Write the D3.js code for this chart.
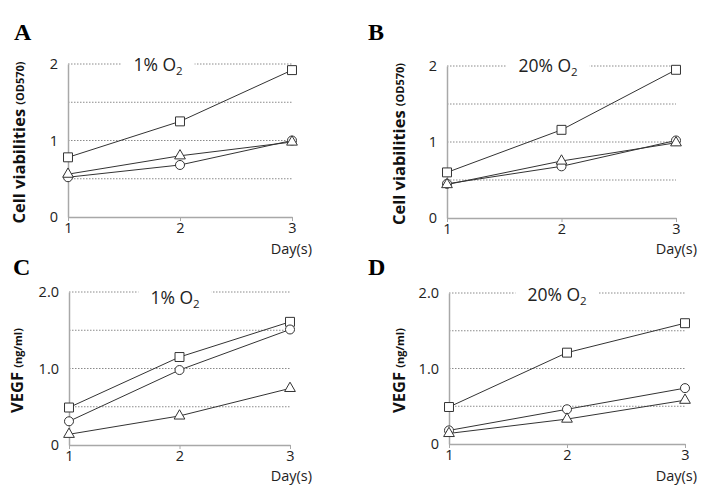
<!DOCTYPE html>
<html>
<head>
<meta charset="utf-8">
<script src="https://cdn.jsdelivr.net/npm/d3@7"></script>
<style>
  body { margin: 0; background: #fff; }
  text { font-family: "Open Sans", "Noto Sans", sans-serif; }
</style>
</head>
<body>
<div id="chart"></div>
<script>
// Data
const days = [1, 2, 3];

const viab1Square = [0.78, 1.25, 1.92];
const viab1Circle = [0.52, 0.68, 1.00];
const viab1Triangle = [0.56, 0.80, 0.98];

const viab20Square = [0.60, 1.16, 1.95];
const viab20Circle = [0.45, 0.68, 1.02];
const viab20Triangle = [0.44, 0.75, 0.99];

const vegf1Square = [0.49, 1.15, 1.61];
const vegf1Circle = [0.31, 0.98, 1.51];
const vegf1Triangle = [0.14, 0.38, 0.74];

const vegf20Square = [0.49, 1.21, 1.60];
const vegf20Circle = [0.18, 0.46, 0.74];
const vegf20Triangle = [0.14, 0.33, 0.58];

const gridValues = [0.5, 1, 1.5, 2];
const viabTicks = [0, 1, 2];
const vegfTicks = [0, 1, 2];

const panels = [
    { letter: "A", title: "1%", yLabel: "Cell viabilities", yUnit: "(OD570)", ticks: viabTicks, fmt: d3.format("d"),
      series: { square: viab1Square, circle: viab1Circle, triangle: viab1Triangle },
      box: { x0: 68, x1: 292, yTop: 64, yBot: 217, titleX: 158, titleY: 71, labelX: 21, dayY: 254, dayX: 312, letterX: 14, letterY: 40 } },
    { letter: "B", title: "20%", yLabel: "Cell viabilities", yUnit: "(OD570)", ticks: viabTicks, fmt: d3.format("d"),
      series: { square: viab20Square, circle: viab20Circle, triangle: viab20Triangle },
      box: { x0: 447, x1: 676, yTop: 66, yBot: 218, titleX: 548, titleY: 72, labelX: 401, dayY: 254, dayX: 697, letterX: 368, letterY: 40 } },
    { letter: "C", title: "1%", yLabel: "VEGF", yUnit: "(ng/ml)", ticks: vegfTicks, fmt: d => d === 0 ? "0" : d3.format(".1f")(d),
      series: { square: vegf1Square, circle: vegf1Circle, triangle: vegf1Triangle },
      box: { x0: 69, x1: 290, yTop: 292, yBot: 445, titleX: 175, titleY: 304, labelX: 19, dayY: 481, dayX: 312, letterX: 13, letterY: 275 } },
    { letter: "D", title: "20%", yLabel: "VEGF", yUnit: "(ng/ml)", ticks: vegfTicks, fmt: d => d === 0 ? "0" : d3.format(".1f")(d),
      series: { square: vegf20Square, circle: vegf20Circle, triangle: vegf20Triangle },
      box: { x0: 449, x1: 685, yTop: 293, yBot: 444, titleX: 557, titleY: 301, labelX: 401, dayY: 481, dayX: 697, letterX: 368, letterY: 275 } },
];

const svg = d3.select("#chart")
    .append("svg")
    .attr("width", 701)
    .attr("height", 488)

const symbols = { square: d3.symbolSquare, circle: d3.symbolCircle, triangle: d3.symbolTriangle };
const symbolSize = { square: 80, circle: 64, triangle: 50 };

panels.forEach(p => {
    const b = p.box;
    const x = d3.scaleLinear().domain([1, 3]).range([b.x0, b.x1]);
    const y = d3.scaleLinear().domain([0, 2]).range([b.yBot, b.yTop]);
    const g = svg.append("g");

    // Grid
    g.selectAll(".grid")
        .data(gridValues)
        .join("line")
        .attr("x1", b.x0).attr("x2", b.x1)
        .attr("y1", d => y(d)).attr("y2", d => y(d))
        .attr("stroke", "#8a8a8a")
        .attr("stroke-width", 1)
        .attr("stroke-dasharray", "1.5,1.5")

    // Axes
    const yAxis = d3.axisLeft(y).tickValues(p.ticks).tickFormat(p.fmt).tickSize(0).tickPadding(10);
    const yG = g.append("g").attr("transform", `translate(${b.x0},0)`).call(yAxis);
    yG.select(".domain").attr("stroke", "#a8a8a8").attr("stroke-width", 1.5);
    yG.selectAll("text").attr("font-size", 14.5).attr("fill", "#222");

    const xAxis = d3.axisBottom(x).tickValues(days).tickFormat(d3.format("d")).tickSizeInner(4).tickSizeOuter(0).tickPadding(2);
    const xG = g.append("g").attr("transform", `translate(0,${b.yBot})`).call(xAxis);
    xG.select(".domain").attr("stroke", "#a8a8a8").attr("stroke-width", 1.5);
    xG.selectAll(".tick line").attr("stroke", "#a8a8a8");
    xG.selectAll("text").attr("font-size", 14.5).attr("fill", "#222");

    // Title with white backing
    const bg = g.append("rect").attr("fill", "#fff");
    const title = g.append("text")
        .attr("x", b.titleX).attr("y", b.titleY)
        .attr("text-anchor", "middle")
        .attr("font-size", 17.5)
        .attr("fill", "#222")
    title.append("tspan").text(p.title + " O");
    title.append("tspan").text("2").attr("font-size", 11.5).attr("dy", 4);
    const bb = title.node().getBBox();
    bg.attr("x", bb.x - 12).attr("y", bb.y)
        .attr("width", bb.width + 24).attr("height", bb.height)

    // Lines and markers
    Object.entries(p.series).forEach(([shape, vals]) => {
        const pts = days.map((d, i) => [d, vals[i]]);
        g.append("path")
            .datum(pts)
            .attr("fill", "none")
            .attr("stroke", "#333")
            .attr("stroke-width", 1)
            .attr("d", d3.line().x(d => x(d[0])).y(d => y(d[1])))
    });
    Object.entries(p.series).forEach(([shape, vals]) => {
        g.selectAll(null)
            .data(days.map((d, i) => [d, vals[i]]))
            .join("path")
            .attr("transform", d => `translate(${x(d[0])},${y(d[1])})`)
            .attr("d", d3.symbol(symbols[shape], symbolSize[shape]))
            .attr("fill", "#fff")
            .attr("stroke", "#333")
            .attr("stroke-width", 1)
    });

    // Y label
    const yl = g.append("text")
        .attr("transform", `translate(${b.labelX},${(b.yTop + b.yBot) / 2 + 2}) rotate(-90)`)
        .attr("text-anchor", "middle")
        .attr("dominant-baseline", "middle")
        .attr("fill", "#111")
    yl.append("tspan").text(p.yLabel + " ").attr("font-size", 16.5).attr("font-weight", "bold");
    yl.append("tspan").text(p.yUnit).attr("font-size", 11).attr("font-weight", "bold");

    // Day(s) label
    g.append("text")
        .attr("x", b.dayX).attr("y", b.dayY)
        .attr("text-anchor", "end")
        .attr("font-size", 14.5)
        .attr("fill", "#222")
        .text("Day(s)")

    // Panel letter
    g.append("text")
        .attr("x", b.letterX).attr("y", b.letterY)
        .style("font-family", "'Liberation Serif', serif")
        .attr("font-weight", "bold")
        .attr("font-size", 24)
        .text(p.letter)
});
</script>
</body>
</html>
